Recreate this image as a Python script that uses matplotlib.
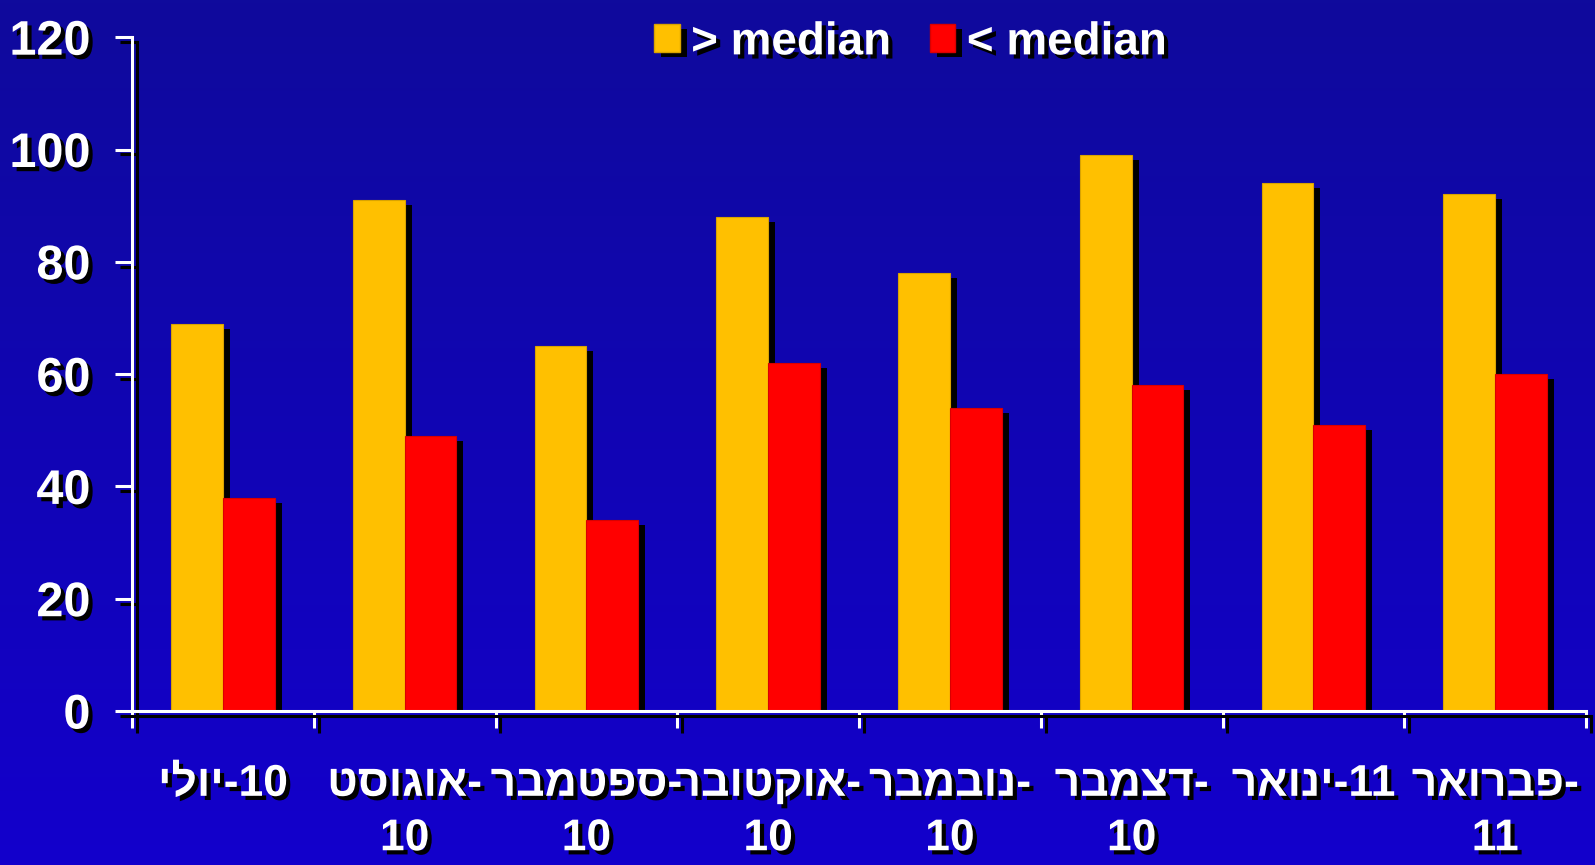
import numpy as np
import matplotlib
matplotlib.use("Agg")
import matplotlib.pyplot as plt
import matplotlib.patheffects as pe
import matplotlib.ticker as mticker
from matplotlib.patches import Patch

# =========================================================
# DATA
# =========================================================

months = ["יולי", "אוגוסט", "ספטמבר", "אוקטובר", "נובמבר", "דצמבר", "ינואר", "פברואר"]
years = ["10", "10", "10", "10", "10", "10", "11", "11"]
one_line = [True, False, False, False, False, False, True, False]

above_median = [69, 91, 65, 88, 78, 99, 94, 92]
below_median = [38, 49, 34, 62, 54, 58, 51, 60]

series_names = ["> median", "< median"]
yticks = [0, 20, 40, 60, 80, 100, 120]

# =========================================================
# STYLE
# =========================================================

plt.rcParams["font.family"] = ["Liberation Sans", "DejaVu Sans"]
plt.rcParams["font.weight"] = "bold"

YELLOW = "#FFC000"
RED = "#FF0000"

text_shadow = [pe.SimplePatchShadow(offset=(3, -3), shadow_rgbFace="black", alpha=1.0),
               pe.Normal()]
line_shadow = [pe.SimpleLineShadow(offset=(3.5, -3.5), shadow_color="black", alpha=1.0),
               pe.Normal()]
bar_shadow = [pe.SimplePatchShadow(offset=(5, -3.6), shadow_rgbFace="black", alpha=1.0),
              pe.Normal()]


def visual(month, year, single):
    # matplotlib draws left to right, so the Hebrew run is reversed by hand
    if single:
        return month[::-1] + "-" + year
    return month[::-1] + "-\n" + year


labels = [visual(m, y, s) for m, y, s in zip(months, years, one_line)]

# =========================================================
# FIGURE + GRADIENT BACKGROUND
# =========================================================

fig = plt.figure(figsize=(15.95, 8.65), dpi=100)
fig.patch.set_facecolor("#1100B8")

bg = fig.add_axes([0, 0, 1, 1], zorder=-10)
top = np.array([15, 10, 156]) / 255
bottom = np.array([19, 0, 204]) / 255
t = np.linspace(0, 1, 256)[:, None]
grad = (top[None, :] * (1 - t) + bottom[None, :] * t)[:, None, :]
bg.imshow(grad, aspect="auto", extent=[0, 1, 0, 1])
bg.axis("off")

ax = fig.add_axes([0.0828, 0.178, 0.9116, 0.779])
ax.patch.set_visible(False)

# =========================================================
# BARS
# =========================================================

x = np.arange(len(months))
w = 0.285

ax.bar(x - w / 2, above_median, w, color=YELLOW, edgecolor="#D9A300",
       linewidth=0.8, path_effects=bar_shadow, zorder=2)
ax.bar(x + w / 2, below_median, w, color=RED, edgecolor="#D90000",
       linewidth=0.8, path_effects=bar_shadow, zorder=2)

# =========================================================
# AXES
# =========================================================

ax.set_xlim(-0.5, len(months) - 0.5)
ax.set_ylim(0, 120)

for side in ["top", "right"]:
    ax.spines[side].set_visible(False)

for side in ["left", "bottom"]:
    ax.spines[side].set_color("white")
    ax.spines[side].set_linewidth(2.2)
    ax.spines[side].set_path_effects(line_shadow)
    ax.spines[side].set_zorder(3)

ax.set_yticks(yticks)
ax.tick_params(axis="y", direction="out", length=12, width=2.2,
               colors="white", labelsize=35, pad=18)

ax.set_xticks(np.arange(len(months) + 1) - 0.5)
ax.xaxis.set_major_formatter(mticker.NullFormatter())
ax.set_xticks(x, labels=labels, minor=True)
ax.tick_params(axis="x", which="major", direction="out", length=12,
               width=2.2, colors="white")
ax.tick_params(axis="x", which="minor", length=0, labelsize=32,
               labelcolor="white", pad=38)

for lab in ax.get_xticklabels(minor=True):
    lab.set_linespacing(1.42)
    lab.set_path_effects(text_shadow)

for lab in ax.get_yticklabels():
    lab.set_path_effects(text_shadow)

for tl in ax.get_xticklines() + ax.get_yticklines():
    tl.set_path_effects(line_shadow)

# =========================================================
# LEGEND
# =========================================================

handles = [Patch(facecolor=YELLOW, edgecolor="#D9A300"),
           Patch(facecolor=RED, edgecolor="#D90000")]

leg = fig.legend(handles, series_names, loc="center",
                 bbox_to_anchor=(0.571, 0.951), ncol=2, frameon=False,
                 fontsize=33, handlelength=0.55, handleheight=0.55,
                 handletextpad=0.25, columnspacing=0.85, labelcolor="white")

for p in leg.get_patches():
    p.set_path_effects(bar_shadow)

for txt in leg.get_texts():
    txt.set_path_effects(text_shadow)

fig.savefig("out.png", dpi=100, facecolor=fig.get_facecolor())
